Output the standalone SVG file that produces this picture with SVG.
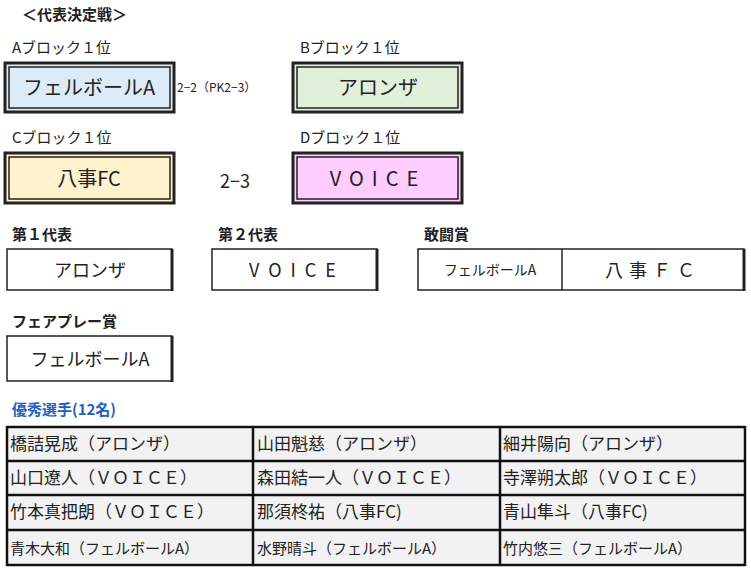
<svg xmlns="http://www.w3.org/2000/svg" width="751" height="572" viewBox="0 0 751 572">
<style>
text{font-family:"Noto Sans CJK JP","Liberation Sans",sans-serif;fill:#222}
.h{font-size:15px}
.b{font-weight:bold;font-size:15px}
.t{font-size:20px;text-anchor:middle}
.o{stroke:#222;stroke-width:3}
.i{fill:none;stroke:#222;stroke-width:1.5}
.w{fill:#fff;stroke:#222;stroke-width:1.5}
.c{font-size:17px}
.g{fill:#f2f2f2;stroke:#111;stroke-width:2.5}
</style>
<rect width="751" height="572" fill="#fff"/>
<text x="22" y="20" class="b">＜代表決定戦＞</text>
<g id="A"><text x="12" y="53" class="h">Aブロック１位</text><rect x="5" y="63" width="169" height="49" style="fill:#DDEBF7" class="o"/><rect x="9" y="67" width="161" height="41" class="i"/><text x="89" y="95" class="t">フェルボールA</text></g>
<g id="B"><text x="300" y="53" class="h">Bブロック１位</text><rect x="293" y="63" width="169" height="49" style="fill:#E2EFDA" class="o"/><rect x="297" y="67" width="161" height="41" class="i"/><text x="378" y="95" class="t">アロンザ</text></g>
<g id="C"><text x="12" y="143" class="h">Cブロック１位</text><rect x="5" y="153" width="169" height="50" style="fill:#FFF2CC" class="o"/><rect x="9" y="157" width="161" height="42" class="i"/><text x="89" y="186" class="t">八事FC</text></g>
<g id="D"><text x="300" y="143" class="h">Dブロック１位</text><rect x="293" y="153" width="169" height="50" style="fill:#FFCCFF" class="o"/><rect x="297" y="157" width="161" height="42" class="i"/><text x="378" y="186" class="t" letter-spacing="8">VOICE</text></g>
<g id="scores"><text x="177" y="92" font-size="12">2−2（PK2−3）</text><text x="235" y="188" class="t" style="font-size:18px">2−3</text></g>
<g id="r1"><text x="12" y="240" class="b">第１代表</text><rect x="7" y="249" width="165" height="41" class="w"/><line x1="172" y1="249" x2="172" y2="291" stroke="#222" stroke-width="3"/><text x="90" y="277" class="t" style="font-size:18px">アロンザ</text></g>
<g id="r2"><text x="218" y="240" class="b">第２代表</text><rect x="212" y="249" width="165" height="41" class="w"/><line x1="377" y1="249" x2="377" y2="291" stroke="#222" stroke-width="3"/><text x="297" y="277" class="t" style="font-size:18px" letter-spacing="9">VOICE</text></g>
<g id="r3"><text x="424" y="240" class="b">敢闘賞</text><rect x="418" y="249" width="326" height="41" class="w"/><line x1="562" y1="249" x2="562" y2="290" stroke="#222" stroke-width="1.5"/><line x1="744" y1="249" x2="744" y2="291" stroke="#222" stroke-width="3"/><text x="490" y="275" text-anchor="middle" font-size="14">フェルボールA</text><text x="653" y="277" class="t" style="font-size:18px" letter-spacing="6">八事ＦＣ</text></g>
<g id="r4"><text x="12" y="327" class="b">フェアプレー賞</text><rect x="7" y="336" width="165" height="45" class="w"/><line x1="172" y1="336" x2="172" y2="382" stroke="#222" stroke-width="3"/><text x="90" y="366" class="t" style="font-size:18px">フェルボールA</text></g>
<text x="12" y="415" class="b" style="fill:#1f5fc0">優秀選手(12名)</text>
<g id="table">
<rect x="7" y="427" width="738" height="138" class="g"/>
<g stroke="#111" stroke-width="2.5"><line x1="7" y1="461" x2="745" y2="461"/><line x1="7" y1="495" x2="745" y2="495"/><line x1="7" y1="530" x2="745" y2="530"/><line x1="253" y1="427" x2="253" y2="565"/><line x1="500" y1="427" x2="500" y2="565"/></g>
<g class="c">
<text x="10" y="450">橋詰晃成（アロンザ）</text><text x="257" y="450">山田魁慈（アロンザ）</text><text x="503" y="450">細井陽向（アロンザ）</text>
<text x="10" y="484">山口遼人（ＶＯＩＣＥ）</text><text x="257" y="484">森田結一人（ＶＯＩＣＥ）</text><text x="503" y="484">寺澤朔太郎（ＶＯＩＣＥ）</text>
<text x="10" y="518">竹本真把朗（ＶＯＩＣＥ）</text><text x="257" y="518">那須柊祐（八事FC)</text><text x="503" y="518">青山隼斗（八事FC)</text>
<text x="10" y="554" style="font-size:15px">青木大和（フェルボールA）</text><text x="257" y="554" style="font-size:15px">水野晴斗（フェルボールA）</text><text x="503" y="554" style="font-size:15px">竹内悠三（フェルボールA）</text>
</g></g>
</svg>
